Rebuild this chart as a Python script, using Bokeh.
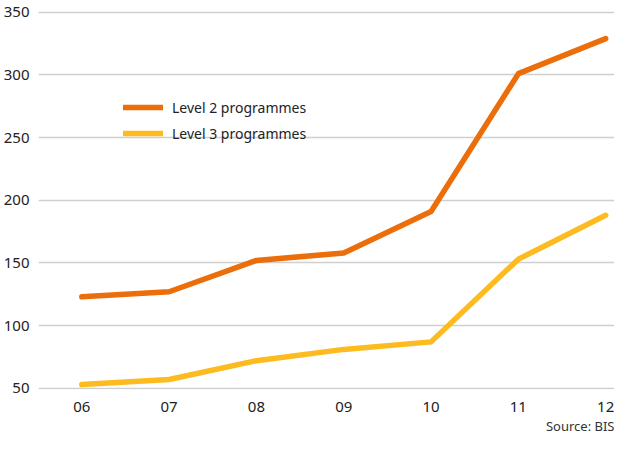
from bokeh.plotting import figure
from bokeh.models import Range1d, FixedTicker, Legend, LegendItem, Title
from bokeh.embed import file_html
from bokeh.resources import INLINE

years = [6, 7, 8, 9, 10, 11, 12]
year_labels = ["06", "07", "08", "09", "10", "11", "12"]
level2 = [123, 127, 152, 158, 191, 301, 329]
level3 = [53, 57, 72, 81, 87, 153, 188]
y_ticks = [50, 100, 150, 200, 250, 300, 350]

ORANGE = "#EC6E0A"
YELLOW = "#FDBB1F"
FONT = "Noto Sans"

p = figure(width=614, height=434, output_backend="svg", toolbar_location=None,
           x_range=Range1d(5.504, 12.101), y_range=Range1d(49, 353),
           min_border_left=29, min_border_right=0, min_border_top=8, min_border_bottom=40)
p.outline_line_color = None
p.background_fill_color = "white"
p.border_fill_color = "white"

r2 = p.line(years, level2, line_color=ORANGE, line_width=5.5, line_join="round", line_cap="round")
r3 = p.line(years, level3, line_color=YELLOW, line_width=5.5, line_join="round", line_cap="round")

p.xgrid.grid_line_color = None
p.ygrid.grid_line_color = "#cfcfcf"
p.ygrid.grid_line_width = 1.5

p.yaxis.ticker = FixedTicker(ticks=y_ticks)
p.xaxis.ticker = FixedTicker(ticks=years)
p.xaxis.major_label_overrides = {y: l for y, l in zip(years, year_labels)}
for ax in (p.xaxis, p.yaxis):
    ax.axis_line_color = None
    ax.major_tick_line_color = None
    ax.minor_tick_line_color = None
    ax.major_label_text_font = FONT
    ax.major_label_text_font_size = "15px"
    ax.major_label_text_color = "#222222"
p.yaxis.major_label_standoff = 3
p.xaxis.major_label_standoff = 6

legend = Legend(items=[LegendItem(label="Level 2 programmes", renderers=[r2]),
                       LegendItem(label="Level 3 programmes", renderers=[r3])],
                location=(85, 246), glyph_width=40, glyph_height=20, spacing=6,
                label_standoff=9, padding=0, margin=0,
                background_fill_alpha=0, border_line_color=None,
                label_text_font=FONT, label_text_font_size="14px", label_text_color="#222222")
p.add_layout(legend)

src = Title(text="Source: BIS", align="right", text_font=FONT, text_font_size="13px",
            text_font_style="normal", text_color="#333333", offset=0, standoff=0)
p.add_layout(src, "below")

open("out.html", "w").write(file_html(p, INLINE))
